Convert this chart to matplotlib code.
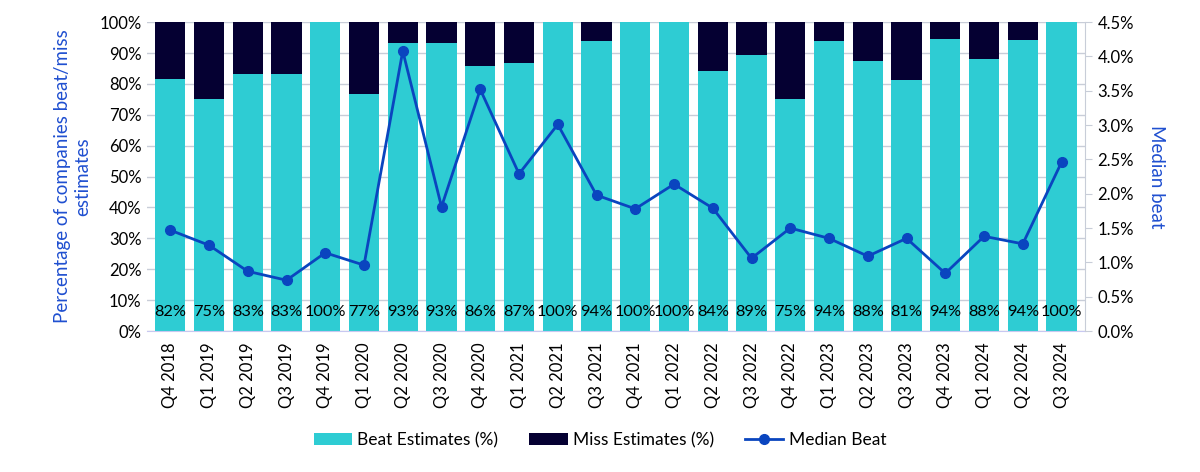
import matplotlib
matplotlib.use("Agg")
import matplotlib.pyplot as plt
from matplotlib.ticker import FuncFormatter, MultipleLocator
import numpy as np

plt.rcParams['font.family'] = ['Lato', 'DejaVu Sans']

quarters = ["Q4 2018", "Q1 2019", "Q2 2019", "Q3 2019", "Q4 2019", "Q1 2020", "Q2 2020",
            "Q3 2020", "Q4 2020", "Q1 2021", "Q2 2021", "Q3 2021", "Q4 2021", "Q1 2022",
            "Q2 2022", "Q3 2022", "Q4 2022", "Q1 2023", "Q2 2023", "Q3 2023", "Q4 2023",
            "Q1 2024", "Q2 2024", "Q3 2024"]
beat = [82, 75, 83, 83, 100, 77, 93, 93, 86, 87, 100, 94, 100, 100, 84, 89, 75, 94, 88, 81, 94, 88, 94, 100]
beat_exact = [81.5, 75, 83.3, 83.3, 100, 76.9, 93.3, 93.3, 85.7, 86.7, 100, 93.8, 100, 100,
              84.2, 89.3, 75, 93.8, 87.5, 81.3, 94.4, 88.2, 94.1, 100]
median_beat = [1.47, 1.25, 0.87, 0.74, 1.14, 0.96, 4.08, 1.81, 3.52, 2.29, 3.01, 1.98, 1.78,
               2.14, 1.79, 1.06, 1.50, 1.35, 1.09, 1.35, 0.84, 1.38, 1.27, 2.46]

beat_color = "#2ECCD3"
miss_color = "#050032"
line_color = "#0A45BF"
label_blue = "#1F4FD0"

fig = plt.figure(figsize=(12, 4.72), dpi=100)
ax = fig.add_axes([0.1225, 0.2987, 0.7815, 0.6543])
x = np.arange(len(quarters))
miss = [100 - b for b in beat_exact]

ax.bar(x, beat_exact, width=0.78, color=beat_color, label="Beat Estimates (%)", zorder=2)
ax.bar(x, miss, bottom=beat_exact, width=0.78, color=miss_color, label="Miss Estimates (%)", zorder=2)
for xi, b in zip(x, beat):
    ax.text(xi, 6, f"{b}%", ha="center", va="center", fontsize=11.8, color="black", zorder=4)

ax.set_ylim(0, 100)
ax.set_xlim(-0.6, len(quarters) - 0.4)
ax.yaxis.set_major_locator(MultipleLocator(10))
ax.yaxis.set_major_formatter(FuncFormatter(lambda v, p: f"{v:.0f}%"))
ax.grid(axis="y", color="#C8CDD8", linewidth=1, zorder=0)
ax.set_axisbelow(True)
ax.set_xticks(x)
ax.set_xticklabels(quarters, rotation=90, fontsize=12)
ax.tick_params(axis="x", length=0, pad=8)
ax.tick_params(axis="y", length=0, labelsize=12, pad=4)
for s in ["top", "right", "left"]:
    ax.spines[s].set_visible(False)
ax.spines["bottom"].set_color("#C8C8F0")
ax.set_ylabel("Percentage of companies beat/miss\nestimates", color=label_blue, fontsize=13.5, labelpad=6)

ax2 = ax.twinx()
ax2.plot(x, median_beat, color=line_color, marker="o", markersize=7, linewidth=2, label="Median Beat", zorder=5)
ax2.set_ylim(0, 4.5)
ax2.yaxis.set_major_locator(MultipleLocator(0.5))
ax2.yaxis.set_major_formatter(FuncFormatter(lambda v, p: f"{v:.1f}%"))
ax2.tick_params(axis="y", length=5, color="#C8CDD8", labelsize=12, pad=4)
for s in ["top", "left", "bottom"]:
    ax2.spines[s].set_visible(False)
ax2.spines["right"].set_color("#C8CDD8")
ax2.set_ylabel("Median beat", color=label_blue, fontsize=13.5, rotation=270, va="bottom", labelpad=10)

h1, l1 = ax.get_legend_handles_labels()
h2, l2 = ax2.get_legend_handles_labels()
fig.legend(h1 + h2, l1 + l2, loc="center", bbox_to_anchor=(0.5, 0.068), ncol=3, frameon=False,
           fontsize=12.5, handlelength=2.2, columnspacing=1.8, handletextpad=0.3)

fig.savefig("out.png", dpi=100)
